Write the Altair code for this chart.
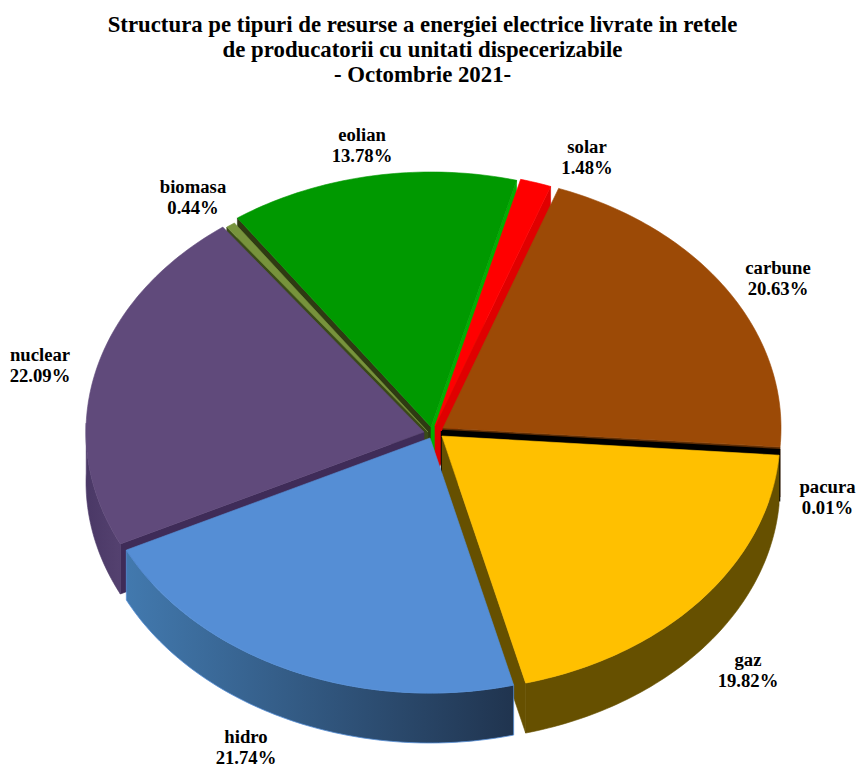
import math
import altair as alt
import pandas as pd

# ---- data ----
NAMES = ["carbune", "pacura", "gaz", "hidro", "nuclear", "biomasa", "eolian", "solar"]
SHARES = [20.63, 0.01, 19.82, 21.74, 22.09, 0.44, 13.78, 1.48]
TITLE_LINES = [
    "Structura pe tipuri de resurse a energiei electrice livrate in retele",
    "de producatorii cu unitati dispecerizabile",
    "- Octombrie 2021-",
]

# ---- styling / layout ----
TOP_COLORS = ["#9C4A06", "#000000", "#FFC000", "#558ED5", "#604A7B", "#77933C", "#009900", "#FF0000"]
START_ANGLE = 20.0
W, H, PAD_TOP = 849, 664, 95
CX, CY = 432.0, 432.0   # pie centre, page pixels
RX, RY = 338.0, 255.0   # pie radii, pixels
DEPTH = 50.0
# apex displacement of each exploded slice from the pie centre, pixels
EXPLODE = {
    "carbune": (11, -4), "pacura": (10, -1), "gaz": (10, 4), "hidro": (-2, 6),
    "nuclear": (-8, 0), "biomasa": (-4, 0), "eolian": (-1, -5), "solar": (3, -6),
}
LABEL_POS = {
    "eolian": (362, 135), "solar": (587, 147), "biomasa": (193, 187), "carbune": (778, 268),
    "pacura": (827.5, 487), "gaz": (748, 660), "hidro": (246, 737), "nuclear": (40, 355),
}
LINE_GAP = 21

# ---- geometry derived from the shares, in units of the pie radius ----
def ux(px):
    return (px - CX) / RX

def uy(py):
    return (CY - py) / RY

dz = DEPTH / RY
total = sum(SHARES)
bounds = {}
a = START_ANGLE
for n, s in zip(NAMES, SHARES):
    bounds[n] = (a, a + s / total * 360)
    a += s / total * 360

def apex(n):
    dx, dy = EXPLODE[n]
    return dx / RX, -dy / RY

def rim(n, t0, t1):
    ax, ay = apex(n)
    steps = max(2, int(abs(t1 - t0)) + 1)
    out = []
    for i in range(steps + 1):
        t = math.radians(t0 + (t1 - t0) * i / steps)
        out.append((ax + math.sin(t), ay + math.cos(t)))
    return out

def top(n):
    t0, t1 = bounds[n]
    return [apex(n)] + rim(n, t0, t1) + [apex(n)]

def outer_wall(n, t0, t1):
    r = rim(n, t0, t1)
    return r + [(x, y - dz) for x, y in reversed(r)] + [r[0]]

def radial_wall(n, t):
    ax, ay = apex(n)
    r = math.radians(t)
    cx, cy = ax + math.sin(r), ay + math.cos(r)
    return [(ax, ay), (cx, cy), (cx, cy - dz), (ax, ay - dz), (ax, ay)]

x_scale = alt.Scale(domain=[ux(8), ux(8 + W)], range=[0, W], nice=False, zero=False)
y_scale = alt.Scale(domain=[uy(8 + PAD_TOP + H), uy(8 + PAD_TOP)], range=[H, 0], nice=False, zero=False)

def poly(points, fill, stroke=None, width=0.6):
    df = pd.DataFrame({"x": [p[0] for p in points], "y": [p[1] for p in points], "i": range(len(points))})
    return alt.Chart(df).mark_line(
        filled=True, fill=fill, stroke=stroke if stroke else (fill if isinstance(fill, str) else "#558ED5"),
        strokeWidth=width, interpolate="linear", opacity=1,
    ).encode(
        x=alt.X("x:Q", scale=x_scale, axis=None),
        y=alt.Y("y:Q", scale=y_scale, axis=None),
        order="i:Q",
    )

def grad(c0, c1):
    return alt.Gradient(gradient="linear", x1=0, y1=0, x2=1, y2=0,
                        stops=[alt.GradientStop(color=c0, offset=0), alt.GradientStop(color=c1, offset=1)])

b = bounds
layers = [
    poly(radial_wall("eolian", b["eolian"][0]), "#2E3A12"),
    poly(radial_wall("eolian", b["eolian"][1]), "#00B000"),
    poly(radial_wall("solar", b["solar"][1]), "#E00000"),
    poly(radial_wall("biomasa", b["biomasa"][0]), "#3A4A18"),
    poly(radial_wall("carbune", b["carbune"][1]), "#5A2B04"),
    poly(radial_wall("nuclear", b["nuclear"][0]), "#3F2C58"),
    poly(outer_wall("nuclear", b["nuclear"][0], 272), grad("#4A3866", "#54416F"), "#4F3D6B"),
    poly(radial_wall("pacura", b["pacura"][1]), "#000000", "#000000", 2.5),
    poly(radial_wall("gaz", b["gaz"][1]), "#665000"),
    poly(outer_wall("gaz", b["gaz"][0], b["gaz"][1]), "#665000"),
    poly(outer_wall("hidro", b["hidro"][0], b["hidro"][1]), grad("#4279AE", "#20344F"), "#558ED5", 0.8),
]
for n, c in zip(NAMES, TOP_COLORS):
    if n != "pacura":
        layers.append(poly(top(n), c))

rows = []
for n, s in zip(NAMES, SHARES):
    lx, ly = LABEL_POS[n]
    rows.append({"x": ux(lx), "y": uy(ly), "t": n})
    rows.append({"x": ux(lx), "y": uy(ly + LINE_GAP), "t": f"{s:.2f}%"})
labels = alt.Chart(pd.DataFrame(rows)).mark_text(
    font="Liberation Serif", fontWeight="bold", fontSize=18.7, color="#000000",
    align="center", baseline="middle",
).encode(
    x=alt.X("x:Q", scale=x_scale, axis=None),
    y=alt.Y("y:Q", scale=y_scale, axis=None),
    text="t:N",
)

chart = alt.layer(*layers, labels).properties(
    width=W, height=H,
    padding={"left": 0, "right": 0, "top": PAD_TOP, "bottom": 0},
    autosize=alt.AutoSizeParams(type="none"),
    title=alt.TitleParams(
        text=TITLE_LINES, font="Liberation Serif", fontWeight="bold", fontSize=22.8,
        color="#000000", anchor="middle", dx=-10, offset=16, lineHeight=25,
    ),
).configure_view(stroke=None)

chart.save("out.html", embed_options={"renderer": "svg", "actions": False})
